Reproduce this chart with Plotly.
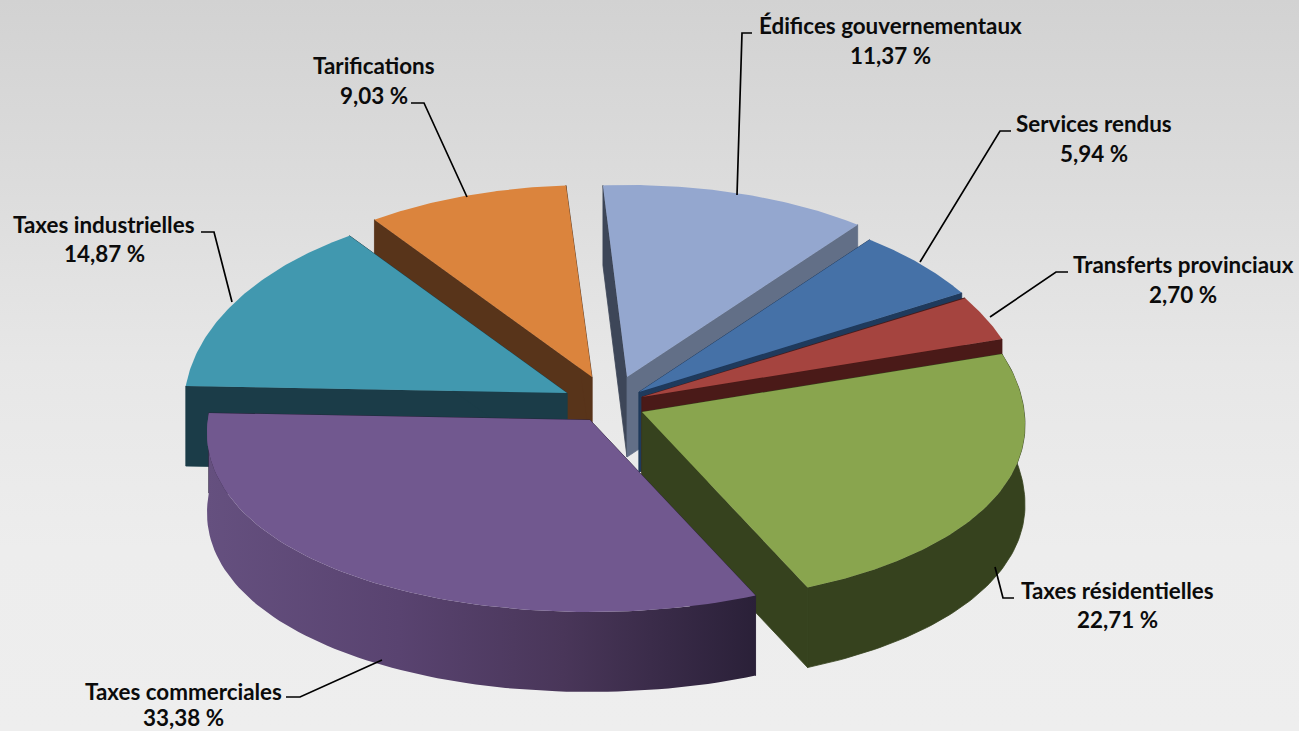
import numpy as np
import plotly.graph_objects as go

# --- data -------------------------------------------------------------
categories = ["Édifices gouvernementaux", "Services rendus", "Transferts provinciaux",
              "Taxes résidentielles", "Taxes commerciales", "Taxes industrielles", "Tarifications"]
values = [11.37, 5.94, 2.70, 22.71, 33.38, 14.87, 9.03]

# --- styling / exploded-pie geometry -----------------------------------
top_colors = ["#94a7cf", "#4571a7", "#a5443f", "#89a54e", "#71588f", "#4198af", "#db843d"]
wall_colors = ["#626f87", "#1f3a5c", "#4a1a18", "#36421e", "#2a2038", "#1b3c48", "#58341a"]
apex_x = [627, 639, 642, 642, 590, 567, 592]
apex_y = [377, 392, 397, 412, 420, 393, 377]
draw_order = [0, 6, 1, 2, 5, 3, 4]
RX, RY, DEPTH, BULGE = 383, 192, 80, 13
START = -3.9
warp_in = [-3.9, 37, 58.4, 68.1, 150, 270, 323.5, 356.1]
warp_out = [0.3, 0, -1, 1.9, 4.5, 5.5, 1.8, 0]

label_x = [890, 1094, 1183, 1117, 183, 104, 374]
label_y = [25.5, 123.5, 264.5, 590.5, 691.5, 224.5, 65.5]
value_y = [55.5, 153.5, 294.5, 619.5, 717, 253.5, 95.5]
leader_x = [[737, 742, 752], [920, 1000, 1011], [990, 1056, 1068], [995, 1003, 1014],
            [382, 300, 286], [232, 214, 201], [467, 424, 411]]
leader_y = [[195, 33, 33], [262, 131, 131], [317, 272, 272], [567, 598, 598],
            [660, 697, 697], [302, 232, 232], [197, 103, 103]]

FONT = dict(family="Lato", size=22.4, color="#0b0b0b")


def proj(i, deg):
    a = np.radians(np.asarray(deg, dtype=float) + np.interp(deg, warp_in, warp_out))
    near = np.where(np.cos(a) < 0, 1.0, 1.0 - np.cos(a))
    return apex_x[i] + RX * np.sin(a), apex_y[i] - RY * np.cos(a) + BULGE * near * np.sin(a) ** 2


def poly(xs, ys, color=None, gradient=None, seam=0.0):
    kw = dict(x=list(xs), y=list(ys), mode="lines", fill="toself",
              hoverinfo="skip", showlegend=False)
    if gradient:
        kw["fillgradient"] = gradient
        kw["line"] = dict(width=0)
    else:
        kw["fillcolor"] = color
        kw["line"] = dict(width=seam, color=color)
    return go.Scatter(**kw)


fig = go.Figure()

# background (y axis is reversed, so the scale runs bottom-to-top here)
fig.add_trace(poly([0, 1299, 1299, 0, 0], [0, 0, 731, 731, 0], gradient=dict(
    type="vertical",
    colorscale=[[0, "#eeeeee"], [0.25, "#ededed"], [0.5, "#e7e7e7"], [0.75, "#dcdcdc"], [1, "#d2d2d2"]],
)))

edges = START + np.concatenate([[0], np.cumsum(values)]) * 3.6

for i in draw_order:
    t0, t1 = edges[i], edges[i + 1]
    th = np.linspace(t0, t1, 80)
    ax, ay = apex_x[i], apex_y[i]
    x_top, y_top = proj(i, th)
    # cut walls
    cut_colors = ("#3d4658", wall_colors[i]) if i == 0 else (wall_colors[i], wall_colors[i])
    for j, t in enumerate((t0, t1)):
        ex, ey = proj(i, t)
        ex, ey = float(ex), float(ey)
        fig.add_trace(poly([ax, ex, ex, ax, ax],
                           [ay, ey, ey + DEPTH, ay + DEPTH, ay], cut_colors[j], seam=0.8))
    # outer rim: only slices that face the viewer
    if np.cos(np.radians((t0 + t1) / 2)) < 0:
        xs = np.concatenate([x_top, x_top[::-1]])
        ys = np.concatenate([y_top, (y_top + DEPTH)[::-1]])
        if i == 4:
            fig.add_trace(poly(xs, ys, gradient=dict(
                type="horizontal",
                colorscale=[[0, "#65507f"], [0.35, "#594370"], [0.65, "#493659"], [1, "#2a2038"]],
            )))
        else:
            fig.add_trace(poly(xs, ys, wall_colors[i], seam=0.8))
    # top face
    fig.add_trace(poly(np.concatenate([[ax], x_top, [ax]]),
                       np.concatenate([[ay], y_top, [ay]]), top_colors[i]))

# leader lines
for lx, ly in zip(leader_x, leader_y):
    fig.add_trace(go.Scatter(x=lx, y=ly, mode="lines", line=dict(color="#000000", width=1.7),
                             hoverinfo="skip", showlegend=False))

# labels
for name, v, lx, ly, vy in zip(categories, values, label_x, label_y, value_y):
    fig.add_annotation(x=lx, y=ly, text=f"<b>{name}</b>", showarrow=False, font=FONT,
                       xanchor="center", yanchor="middle")
    fig.add_annotation(x=lx, y=vy, text="<b>" + f"{v:.2f}".replace(".", ",") + " %</b>",
                       showarrow=False, font=FONT, xanchor="center", yanchor="middle")

fig.update_layout(
    width=1299, height=731, margin=dict(l=0, r=0, t=0, b=0),
    paper_bgcolor="#eeeeee", plot_bgcolor="#eeeeee", showlegend=False,
    xaxis=dict(range=[0, 1299], visible=False, fixedrange=True),
    yaxis=dict(range=[731, 0], visible=False, fixedrange=True),
)
fig.write_html("out.html", config=dict(displayModeBar=False),
               post_script="document.body.style.margin='0';document.documentElement.style.overflow='hidden';")
